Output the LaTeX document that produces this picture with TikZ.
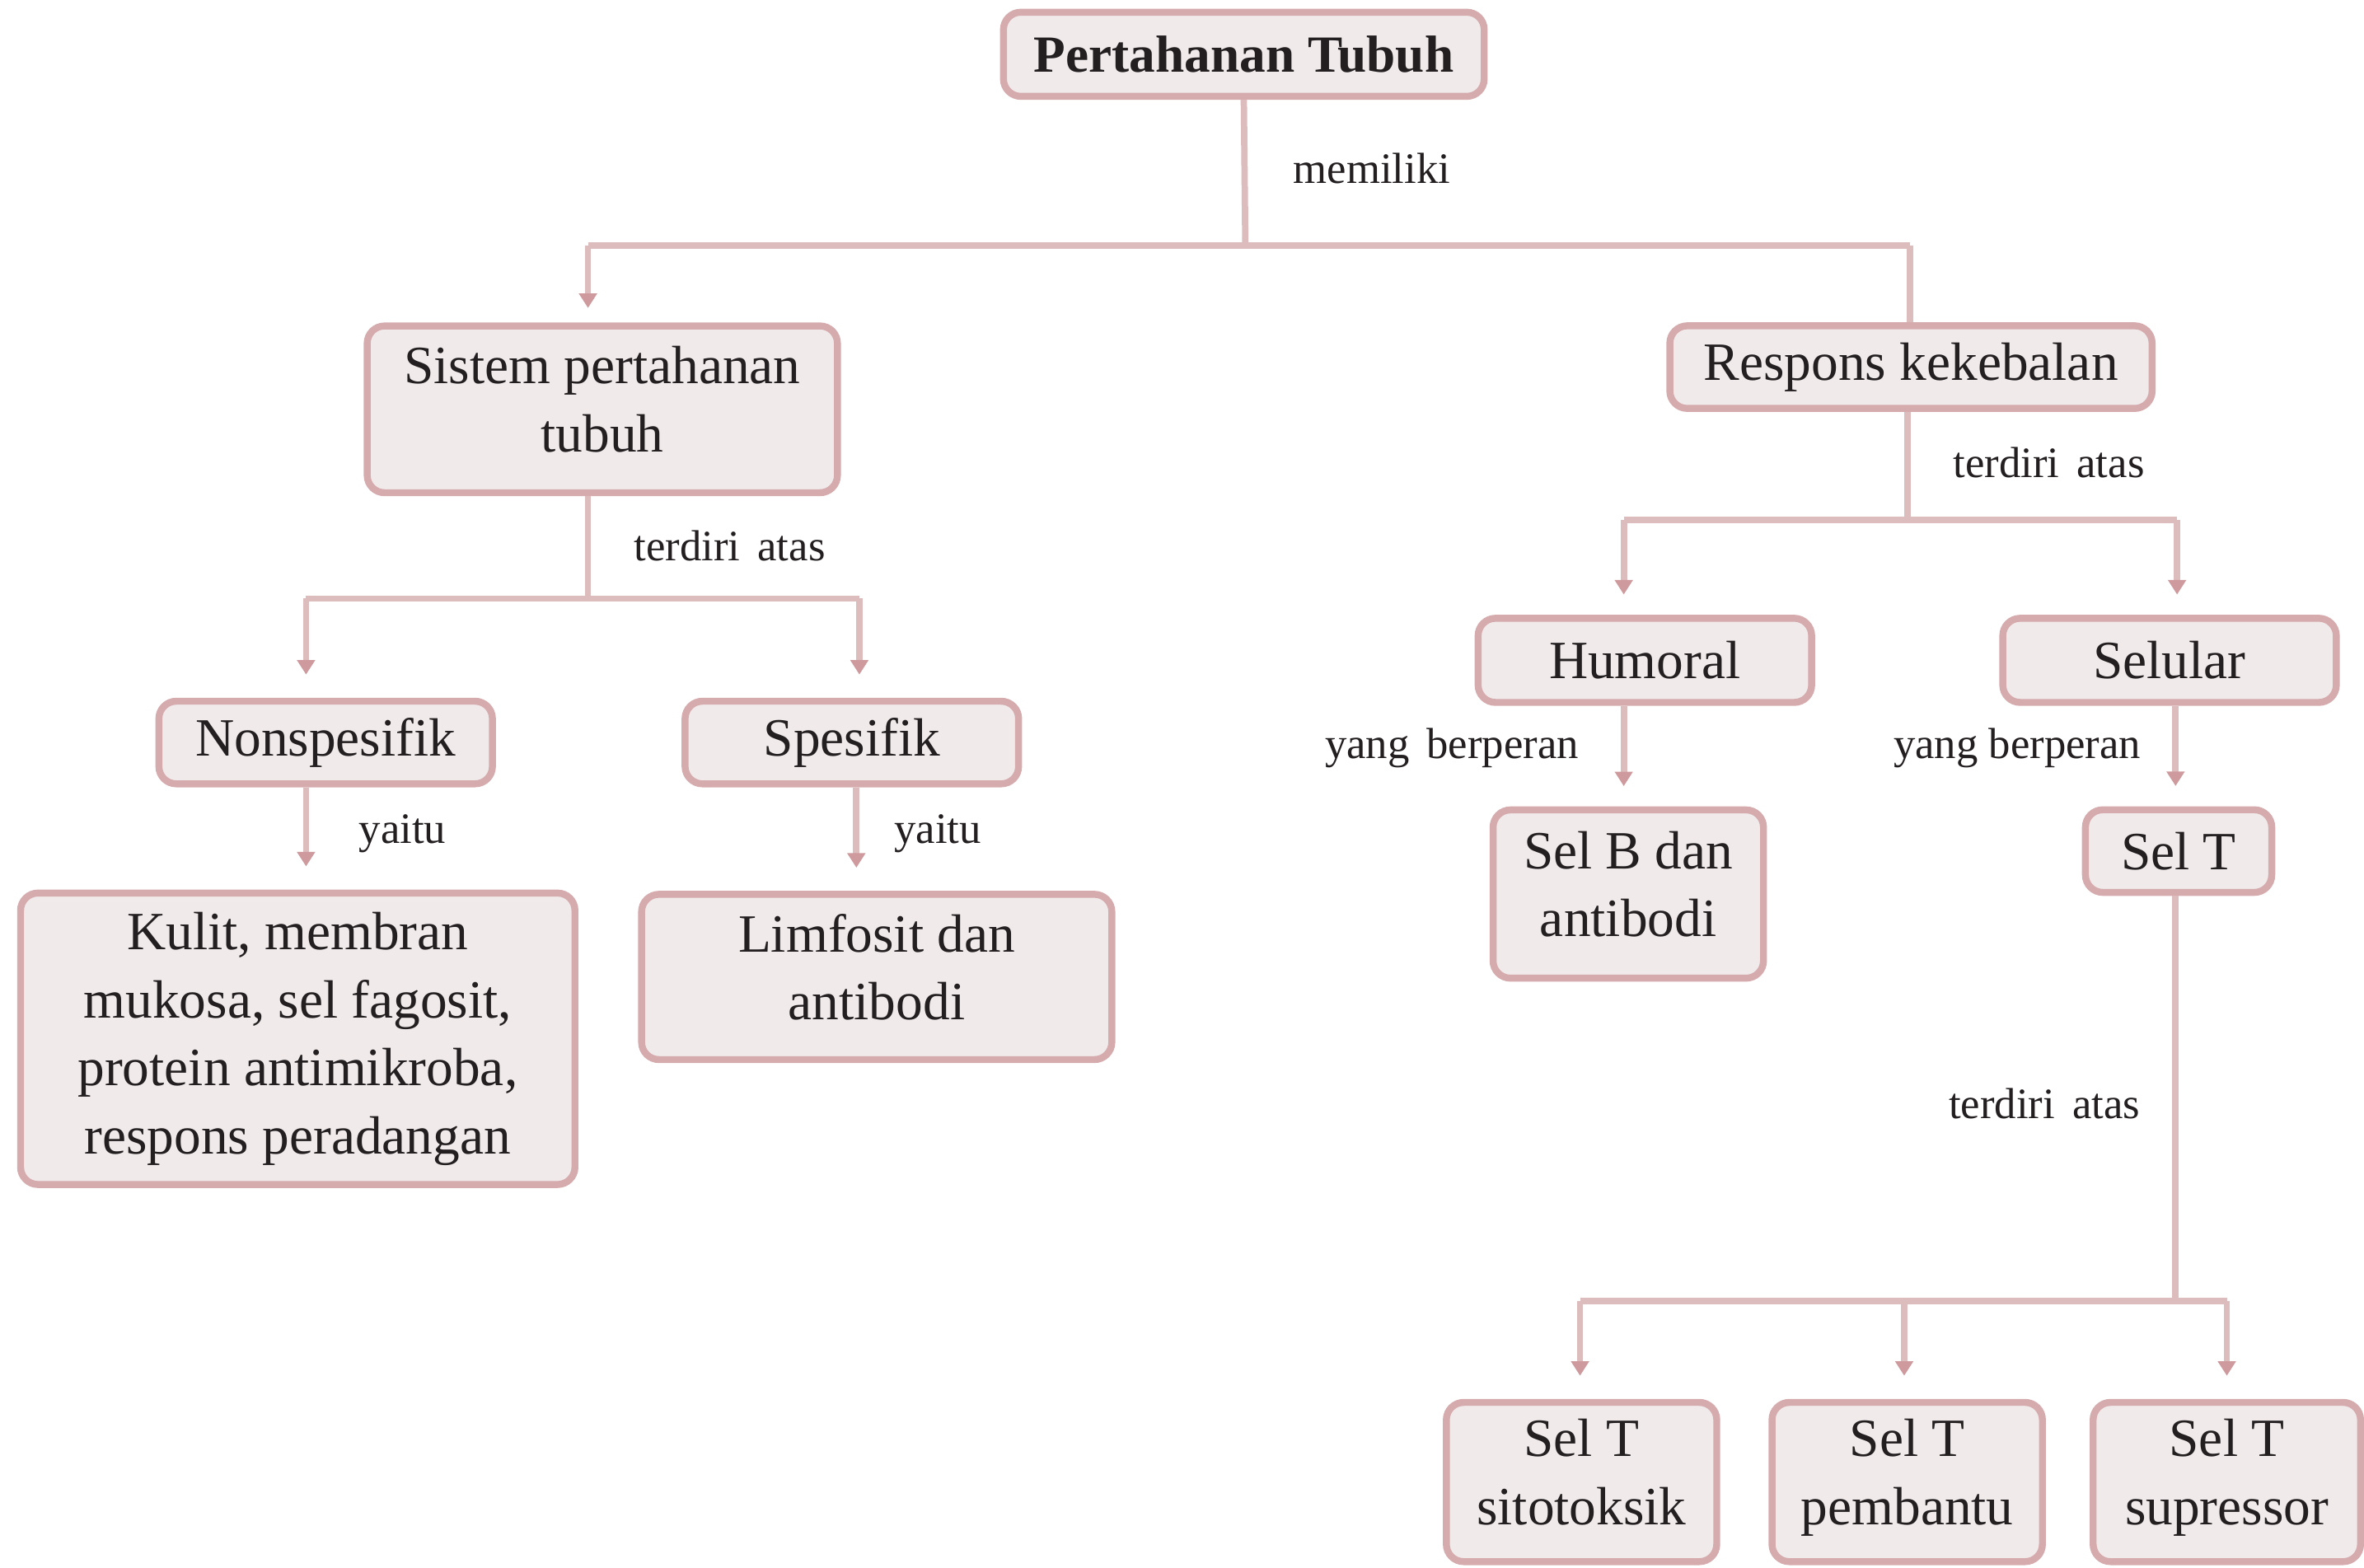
\documentclass[tikz,border=0pt]{standalone}
\usepackage{fontspec}
\setmainfont{Liberation Serif}
\usetikzlibrary{arrows.meta}
\definecolor{bord}{HTML}{D6ABAE}
\definecolor{fillc}{HTML}{F0EAEA}
\definecolor{linec}{HTML}{DDBCBE}
\definecolor{tipc}{HTML}{CE9A9D}
\definecolor{txt}{HTML}{231F20}
\begin{document}
\begin{tikzpicture}[x=0.018297cm,y=-0.018297cm,
  box/.style 2 args={draw=bord, line width=2.4pt, fill=fillc, rounded corners=6pt,
    minimum width=#1*0.5187pt, minimum height=#2*0.5187pt, inner sep=0pt,
    align=center, text=txt, font=\fontsize{18.6}{23.5}\selectfont},
  twoline/.style={text depth=7pt},
  lbl/.style={text=txt, font=\fontsize{15}{18}\selectfont, inner sep=0pt},
  conn/.style={draw=linec, line width=2.2pt},
  arr/.style={conn, -{Triangle[length=5pt,width=6pt,color=tipc]}},
]
\useasboundingbox (0,0) rectangle (1568,1040);

% nodes
\node[box={320}{56}, font=\bfseries\fontsize{18}{22}\selectfont] (title) at (825,36) {Pertahanan Tubuh};
\node[box={313}{111}, twoline] (sistem) at (399.5,271.5) {Sistem pertahanan\\tubuh};
\node[box={321}{55}] (respons) at (1267.5,243.5) {Respons kekebalan};
\node[box={222}{55}] (nonsp) at (216,492.5) {Nonspesifik};
\node[box={222}{55}] (spes) at (565,492.5) {Spesifik};
\node[box={369}{194}] (kulit) at (197.5,689) {Kulit, membran\\mukosa, sel fagosit,\\protein antimikroba,\\respons peradangan};
\node[box={313}{110}, twoline] (limf) at (581.5,648) {Limfosit dan\\antibodi};
\node[box={222}{56}] (humoral) at (1091,438) {Humoral};
\node[box={222}{56}] (selular) at (1439,438) {Selular};
\node[box={180}{112}, twoline] (selb) at (1080,593) {Sel B dan\\antibodi};
\node[box={124}{55}] (selt) at (1445,564.5) {Sel T};
\node[box={180}{106}, twoline] (sito) at (1049,983) {Sel T\\sitotoksik};
\node[box={180}{106}, twoline] (pemb) at (1265,983) {Sel T\\pembantu};
\node[box={178}{106}, twoline] (supr) at (1477,983) {Sel T\\supressor};

% junction coordinates
\coordinate (j1) at (826,163);
\coordinate (j1L) at (390,163);
\coordinate (j1R) at (1267,163);
\coordinate (j2) at (390,397);
\coordinate (j2L) at (203,397);
\coordinate (j2R) at (570,397);
\coordinate (c568) at (568,0);
\coordinate (j3) at (1265,345);
\coordinate (j3L) at (1077,345);
\coordinate (j3R) at (1444,345);
\coordinate (c1443) at (1443,0);
\coordinate (j4) at (1443,863);
\coordinate (j4L) at (1048,863);
\coordinate (j4M) at (1263,863);
\coordinate (j4R) at (1477,863);

% top level
\draw[conn] (title.south) -- (j1);
\draw[conn] (j1L) -- (j1R);
\draw[arr, shorten >=5pt] (j1L) -- (j1L |- sistem.north);
\draw[conn] (j1R) -- (j1R |- respons.north);
\node[lbl] (lmem) at (910,112) {memiliki};

% left branch
\draw[conn] (sistem.south -| j2) -- (j2);
\draw[conn] (j2L) -- (j2R);
\draw[arr, shorten >=8pt] (j2L) -- (j2L |- nonsp.north);
\draw[arr, shorten >=8pt] (j2R) -- (j2R |- spes.north);
\node[lbl] (lter1) at (484,362) {terdiri\hspace{0.4em}atas};
\draw[arr, shorten >=8pt] (nonsp.south -| j2L) -- (kulit.north -| j2L);
\node[lbl] (lyai1) at (267,553) {yaitu};
\draw[arr, shorten >=8pt] (spes.south -| c568) -- (limf.north -| c568);
\node[lbl] (lyai2) at (622,553) {yaitu};

% right branch
\draw[conn] (respons.south -| j3) -- (j3);
\draw[conn] (j3L) -- (j3R);
\draw[arr, shorten >=7pt] (j3L) -- (j3L |- humoral.north);
\draw[arr, shorten >=7pt] (j3R) -- (j3R |- selular.north);
\node[lbl] (lter2) at (1359,307) {terdiri\hspace{0.4em}atas};
\draw[arr, shorten >=7pt] (humoral.south -| j3L) -- (selb.north -| j3L);
\node[lbl] (lyb1) at (963,496) {yang\hspace{0.4em}berperan};
\draw[arr, shorten >=7pt] (selular.south -| c1443) -- (selt.north -| c1443);
\node[lbl] (lyb2) at (1338,496) {yang berperan};

% Sel T branch
\draw[conn] (selt.south -| j4) -- (j4);
\draw[conn] (j4L) -- (j4R);
\draw[arr, shorten >=8pt] (j4L) -- (j4L |- sito.north);
\draw[arr, shorten >=8pt] (j4M) -- (j4M |- pemb.north);
\draw[arr, shorten >=8pt] (j4R) -- (j4R |- supr.north);
\node[lbl] (lter3) at (1356,732) {terdiri\hspace{0.4em}atas};
\end{tikzpicture}
\end{document}
